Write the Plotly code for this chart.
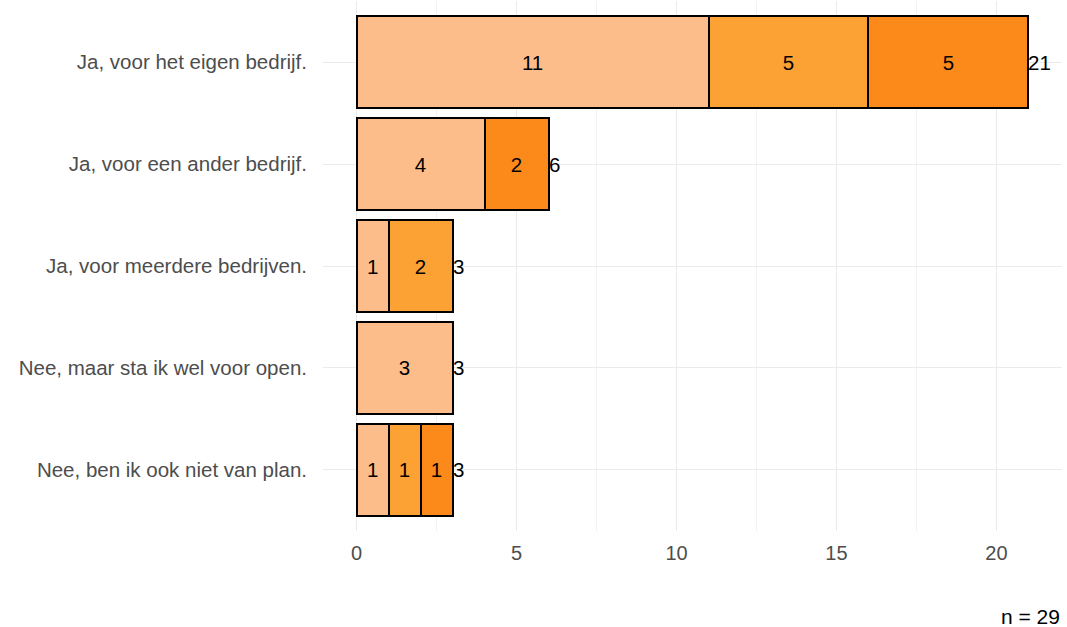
import plotly.graph_objects as go

# Answer categories, top to bottom
categories = [
    "Ja, voor het eigen bedrijf.",
    "Ja, voor een ander bedrijf.",
    "Ja, voor meerdere bedrijven.",
    "Nee, maar sta ik wel voor open.",
    "Nee, ben ik ook niet van plan.",
]

# Counts per segment (0 = segment absent)
segment_a = [11, 4, 1, 3, 1]
segment_b = [5, 0, 2, 0, 1]
segment_c = [5, 2, 0, 0, 1]

segment_names = ["A", "B", "C"]
segment_colors = ["#FDBD8A", "#FCA234", "#FC8A1A"]

x_ticks = [0, 5, 10, 15, 20]
caption = "n = 29"

totals = [a + b + c for a, b, c in zip(segment_a, segment_b, segment_c)]

FONT = "Liberation Sans"

fig = go.Figure()
for name, vals, col in zip(segment_names, [segment_a, segment_b, segment_c], segment_colors):
    shown = [v if v > 0 else None for v in vals]
    fig.add_trace(go.Bar(
        y=categories,
        x=shown,
        orientation="h",
        name=name,
        width=0.9,
        marker=dict(color=col, line=dict(color="black", width=2)),
        text=[str(v) if v else "" for v in vals],
        textposition="inside",
        insidetextanchor="middle",
        textangle=0,
        textfont=dict(color="black", size=20.5, family=FONT),
        constraintext="none",
        showlegend=False,
        hoverinfo="skip",
    ))

# Total count at the end of each bar
for cat, tot in zip(categories, totals):
    fig.add_annotation(
        x=tot, y=cat, text=str(tot), showarrow=False,
        xanchor="left", yanchor="middle", xshift=-2,
        font=dict(color="black", size=20.5, family=FONT),
    )

fig.add_annotation(
    x=1, y=0, xref="paper", yref="paper", text=caption, showarrow=False,
    xanchor="right", yanchor="top", yshift=-72,
    font=dict(color="black", size=21, family=FONT),
)

fig.update_layout(
    barmode="stack",
    width=1067, height=627,
    margin=dict(l=323, r=5, t=1, b=96),
    plot_bgcolor="white",
    paper_bgcolor="white",
    font=dict(family=FONT, color="#4D4D4D"),
    xaxis=dict(
        range=[-1.05, 22.05],
        tickvals=x_ticks,
        ticktext=[str(t) for t in x_ticks],
        showgrid=True, gridcolor="#EBEBEB", gridwidth=1.2,
        minor=dict(tickvals=[2.5, 7.5, 12.5, 17.5], showgrid=True, gridcolor="#F2F2F2", gridwidth=0.8),
        zeroline=False, showline=False, ticks="",
        tickfont=dict(size=20, color="#4D4D4D"),
        ticklabelstandoff=8,
    ),
    yaxis=dict(
        categoryorder="array", categoryarray=categories,
        range=[4.6, -0.6],
        showgrid=True, gridcolor="#EBEBEB", gridwidth=1.2,
        zeroline=False, showline=False, ticks="",
        tickfont=dict(size=20.5, color="#4D4D4D"),
        ticklabelstandoff=15,
    ),
)

fig.write_html("out.html")
